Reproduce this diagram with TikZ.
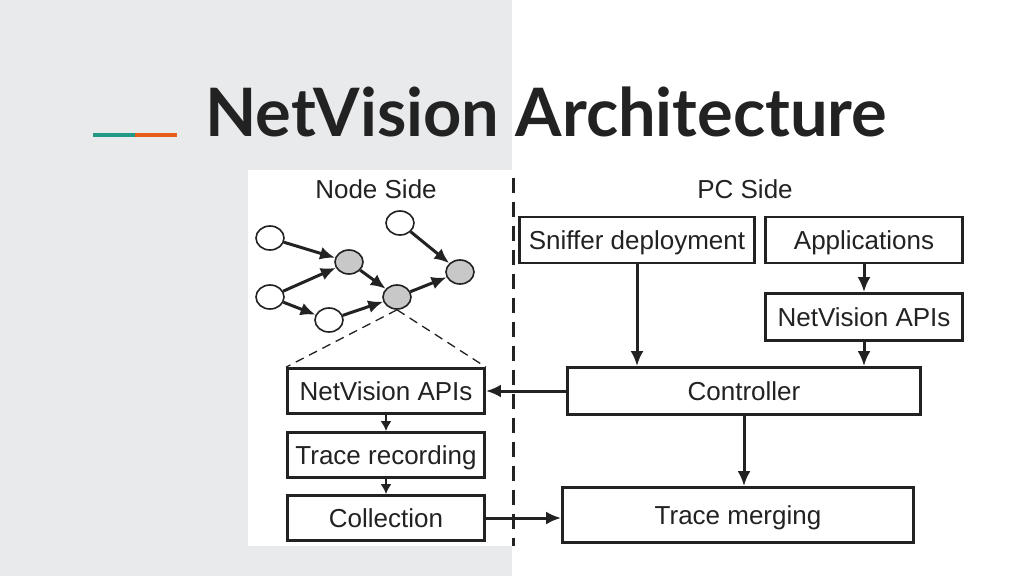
\documentclass[tikz,border=0pt]{standalone}
\usepackage{fontspec}
\setmainfont{Liberation Sans}
\newfontfamily\titlefont{Lato}
\usetikzlibrary{arrows.meta,shapes.geometric}
\definecolor{bgGray}{RGB}{233,234,236}
\definecolor{accTeal}{RGB}{32,154,134}
\definecolor{accOrange}{RGB}{232,94,24}
\definecolor{inkDark}{RGB}{34,34,34}
\definecolor{nodeGray}{RGB}{200,200,200}

\begin{document}
\begin{tikzpicture}[x=1pt,y=-1pt]
\tikzstyle{block} = [rectangle, draw=inkDark, line width=2.8pt, fill=white, inner sep=0pt, text height=18.6pt, text depth=0pt, font=\fontsize{26}{30}\selectfont, text=inkDark]
\tikzstyle{plain} = [ellipse, draw=inkDark, line width=1.6pt, fill=white, minimum width=28pt, minimum height=24pt, inner sep=0pt]
\tikzstyle{marked} = [plain, fill=nodeGray]
\tikzstyle{arr} = [draw=inkDark, line width=3pt, -{Latex[length=15pt,width=13pt]}]
\tikzstyle{smallarr} = [draw=inkDark, line width=2pt, -{Latex[length=10pt,width=11pt]}]
\tikzstyle{sidelabel} = [font=\fontsize{26}{30}\selectfont, text=inkDark]

% backgrounds
\useasboundingbox (0,0) rectangle (1024,576);
\fill[white] (0,0) rectangle (1024,576);
\fill[bgGray] (0,0) rectangle (512,576);
\fill[white] (248,170) rectangle (512,546);

% title
\node(title) [anchor=base west, inner sep=0pt, text=inkDark, font=\titlefont\bfseries\fontsize{66.8}{72}\selectfont] at (205,136) {NetVision Architecture};
\draw[accTeal, line width=3.5pt] (93,135) -- (135,135);
\draw[accOrange, line width=3.5pt] (135,135) -- (177,135);

% sides
\node(nodeSide) [sidelabel] at (376,189) {Node Side};
\node(pcSide) [sidelabel] at (745,189) {PC Side};
\coordinate (divTop) at (513,178);
\coordinate (divBot) at (513,546);
\draw[inkDark, line width=3pt, dash pattern=on 15pt off 9pt] (divTop) -- (divBot);

% sensor network
\node(w1) [plain] at (270,238) {};
\node(w2) [plain] at (400,223) {};
\node(g1) [marked] at (349,262) {};
\node(g2) [marked] at (460,272) {};
\node(w3) [plain] at (270,297) {};
\node(g3) [marked] at (397,297) {};
\node(w4) [plain] at (329,320) {};
\draw[arr] (w1) -- (g1);
\draw[arr] (w3) -- (g1);
\draw[arr] (w3) -- (w4);
\draw[arr] (w4) -- (g3);
\draw[arr] (g1) -- (g3);
\draw[arr] (g3) -- (g2);
\draw[arr] (w2) -- (g2);

% node side
\node(apiL) [block, minimum width=197pt, minimum height=45pt] at (386,391) {NetVision APIs};
\node(recL) [block, minimum width=197pt, minimum height=45pt] at (386,455) {Trace recording};
\node(colL) [block, minimum width=197pt, minimum height=45pt] at (386,518) {Collection};
\draw[inkDark, line width=1.3pt, dash pattern=on 9pt off 6pt] (g3.south) -- (apiL.north west);
\draw[inkDark, line width=1.3pt, dash pattern=on 9pt off 6pt] (g3.south) -- (apiL.north east);
\draw[smallarr] (apiL) -- (recL);
\draw[smallarr] (recL) -- (colL);

% pc side
\node(sniff) [block, minimum width=235pt, minimum height=46pt] at (637,240) {Sniffer deployment};
\node(apps) [block, minimum width=197pt, minimum height=46pt] at (864,240) {Applications};
\node(apiR) [block, minimum width=197pt, minimum height=47pt] at (864,317) {NetVision APIs};
\node(ctrl) [block, minimum width=353pt, minimum height=47pt] at (744,391) {Controller};
\node(merge) [block, minimum width=351pt, minimum height=55pt] at (738,515) {Trace merging};

\draw[arr] (sniff.south) -- (sniff.south |- ctrl.north);
\draw[arr] (apps) -- (apiR);
\draw[arr] (apiR) -- (apiR.south |- ctrl.north);
\draw[arr] (ctrl) -- (ctrl.south |- merge.north);
\draw[arr] (ctrl) -- (apiL);
\draw[arr] (colL) -- (colL.east -| merge.west);
\end{tikzpicture}
\end{document}
